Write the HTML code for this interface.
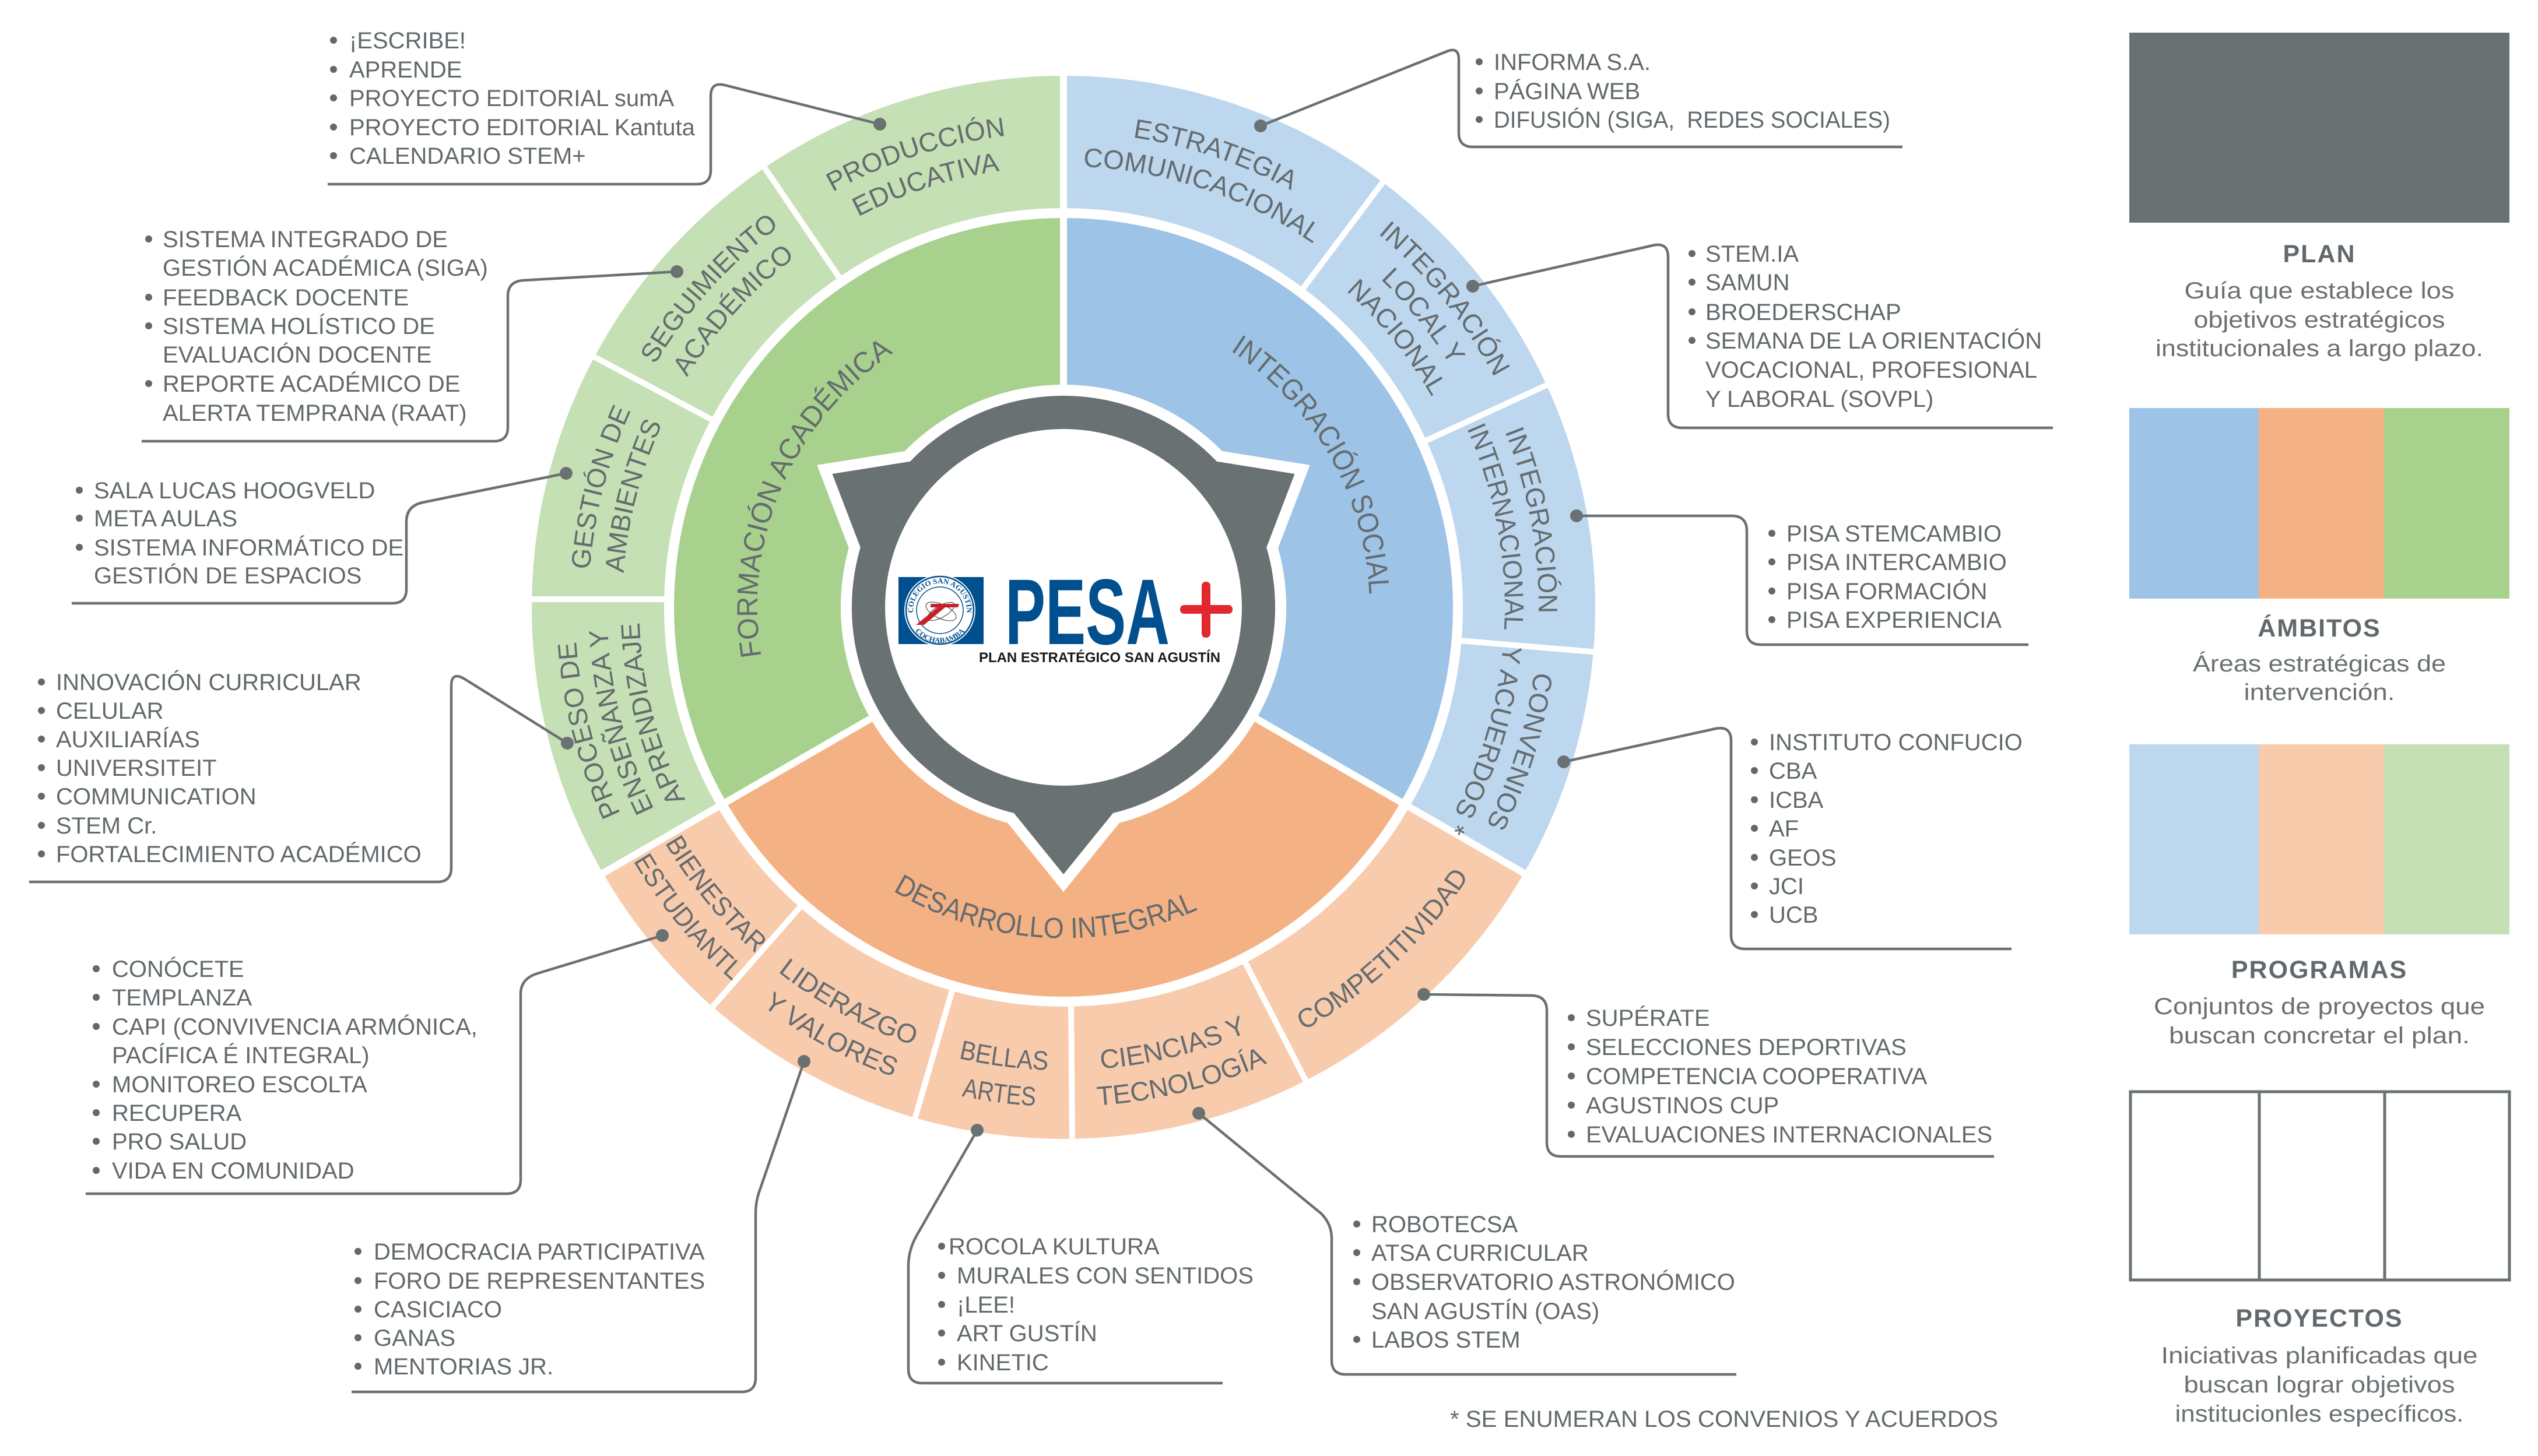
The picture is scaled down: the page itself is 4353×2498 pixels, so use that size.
<!DOCTYPE html>
<html>
<head>
<meta charset="utf-8">
<style>
html,body{margin:0;padding:0;background:#fff}
svg{display:block}
.t{font-family:"Liberation Sans",sans-serif;font-size:40px;fill:#62696c}
.r{font-family:"Liberation Sans",sans-serif;font-size:46px;fill:#656c6f;text-anchor:middle}
.a{font-size:50px}
.lt{font-family:"Liberation Sans",sans-serif;font-size:43px;font-weight:bold;fill:#62696c;text-anchor:middle;letter-spacing:2px}
.ld{font-family:"Liberation Sans",sans-serif;font-size:40px;fill:#6a7073;text-anchor:middle}
</style>
</head>
<body>
<svg width="4353" height="2498" viewBox="0 0 4353 2498" xmlns="http://www.w3.org/2000/svg">
<defs>
<path id="o525" d="M-523,-45.8 A525,525 0 0 1 523,-45.8"/>
<path id="o815" d="M-811.9,-71.1 A815,815 0 0 1 811.9,-71.1"/>
<path id="o757" d="M-754.1,-66 A757,757 0 0 1 754.1,-66"/>
<path id="o838" d="M-834.8,-73.1 A838,838 0 0 1 834.8,-73.1"/>
<path id="o783" d="M-780,-68.3 A783,783 0 0 1 780,-68.3"/>
<path id="o728" d="M-725.2,-63.5 A728,728 0 0 1 725.2,-63.5"/>
<path id="i568" d="M-565.8,49.5 A568,568 0 0 0 565.8,49.5"/>
<path id="i794" d="M-791,69.2 A794,794 0 0 0 791,69.2"/>
<path id="i857" d="M-853.7,74.7 A857,857 0 0 0 853.7,74.7"/>
<path id="i835" d="M-831.8,72.8 A835,835 0 0 0 831.8,72.8"/>
<path id="st" d="M1566,1047 A46,46 0 0 1 1658,1047"/>
<path id="sb" d="M1556,1047 A56,56 0 0 0 1668,1047"/>
</defs>

<!-- program ring -->
<path d="M1824,1042 L1034.2,1498 A912,912 0 0 1 1824,130 Z" fill="#C5E0B4"/>
<path d="M1824,1042 L1824,130 A912,912 0 0 1 2613.8,1498 Z" fill="#BDD7EE"/>
<path d="M1824,1042 L2613.8,1498 A912,912 0 0 1 1034.2,1498 Z" fill="#F8CBAD"/>
<circle cx="1824" cy="1042" r="685" fill="#fff"/>
<!-- ambit ring -->
<path d="M1824,1042 L1245.5,1376 A668,668 0 0 1 1824,374 Z" fill="#A9D18E"/>
<path d="M1824,1042 L1824,374 A668,668 0 0 1 2402.5,1376 Z" fill="#9DC3E6"/>
<path d="M1824,1042 L2402.5,1376 A668,668 0 0 1 1245.5,1376 Z" fill="#F4B183"/>

<!-- separators -->
<g stroke="#fff" stroke-width="12" fill="none">
<line x1="1824" y1="1042" x2="1824" y2="118"/>
<line x1="1824" y1="1042" x2="2620.7" y2="1502"/>
<line x1="1824" y1="1042" x2="1027.3" y2="1502"/>
</g>
<g stroke="#fff" stroke-width="10" fill="none">
<line x1="1441.8" y1="479.6" x2="1306.9" y2="281.1"/>
<line x1="1224.2" y1="721.7" x2="1012.5" y2="608.7"/>
<line x1="1146" y1="1028" x2="898" y2="1028"/>
<line x1="1375.2" y1="1552.9" x2="1216.8" y2="1733.2"/>
<line x1="1634.3" y1="1695" x2="1567.3" y2="1925.5"/>
<line x1="1837" y1="1715" x2="1839" y2="1962"/>
<line x1="2133.7" y1="1647.3" x2="2243.1" y2="1861"/>
<line x1="2501.6" y1="1098.9" x2="2740.8" y2="1119"/>
<line x1="2441.8" y1="757.8" x2="2659.8" y2="657.5"/>
<line x1="2232.3" y1="498.2" x2="2376.4" y2="306.3"/>
</g>

<!-- ambit labels -->
<g transform="translate(1824 1042) rotate(-66.5)"><text class="r a"><textPath href="#o525" startOffset="50%" textLength="600" lengthAdjust="spacingAndGlyphs">FORMACIÓN ACADÉMICA</textPath></text></g>
<g transform="translate(1824 1042) rotate(60.3)"><text class="r a"><textPath href="#o525" startOffset="50%" textLength="500" lengthAdjust="spacingAndGlyphs">INTEGRACIÓN SOCIAL</textPath></text></g>
<g transform="translate(1824 1042) rotate(3.5)"><text class="r a"><textPath href="#i568" startOffset="50%" textLength="545" lengthAdjust="spacingAndGlyphs">DESARROLLO INTEGRAL</textPath></text></g>

<!-- program labels (green) -->
<g transform="translate(1824 1042) rotate(-18)">
<text class="r"><textPath href="#o815" startOffset="50%">PRODUCCIÓN</textPath></text>
<text class="r"><textPath href="#o757" startOffset="50%">EDUCATIVA</textPath></text>
</g>
<g transform="translate(1824 1042) rotate(-48)">
<text class="r"><textPath href="#o815" startOffset="50%">SEGUIMIENTO</textPath></text>
<text class="r"><textPath href="#o757" startOffset="50%">ACADÉMICO</textPath></text>
</g>
<g transform="translate(1824 1042) rotate(-75.5)">
<text class="r"><textPath href="#o815" startOffset="50%">GESTIÓN DE</textPath></text>
<text class="r"><textPath href="#o757" startOffset="50%">AMBIENTES</textPath></text>
</g>
<g transform="translate(1824 1042) rotate(-104.5)">
<text class="r"><textPath href="#o838" startOffset="50%">PROCESO DE</textPath></text>
<text class="r"><textPath href="#o783" startOffset="50%">ENSEÑANZA Y</textPath></text>
<text class="r"><textPath href="#o728" startOffset="50%">APRENDIZAJE</textPath></text>
</g>
<!-- program labels (blue) -->
<g transform="translate(1824 1042) rotate(18.5)">
<text class="r"><textPath href="#o815" startOffset="50%">ESTRATEGIA</textPath></text>
<text class="r"><textPath href="#o757" startOffset="50%">COMUNICACIONAL</textPath></text>
</g>
<g transform="translate(1824 1042) rotate(51)">
<text class="r"><textPath href="#o838" startOffset="50%">INTEGRACIÓN</textPath></text>
<text class="r"><textPath href="#o783" startOffset="50%">LOCAL Y</textPath></text>
<text class="r"><textPath href="#o728" startOffset="50%">NACIONAL</textPath></text>
</g>
<g transform="translate(1824 1042) rotate(79.5)">
<text class="r"><textPath href="#o815" startOffset="50%">INTEGRACIÓN</textPath></text>
<text class="r"><textPath href="#o757" startOffset="50%" textLength="355" lengthAdjust="spacingAndGlyphs">INTERNACIONAL</textPath></text>
</g>
<g transform="translate(1824 1042) rotate(107.5)">
<text class="r"><textPath href="#o815" startOffset="50%">CONVENIOS</textPath></text>
<text class="r"><textPath href="#o757" startOffset="50%">Y ACUERDOS *</textPath></text>
</g>
<!-- program labels (orange) -->
<g transform="translate(1824 1042) rotate(50.5)">
<text class="r"><textPath href="#i794" startOffset="50%" textLength="247" lengthAdjust="spacingAndGlyphs">BIENESTAR</textPath></text>
<text class="r"><textPath href="#i857" startOffset="50%" textLength="268" lengthAdjust="spacingAndGlyphs">ESTUDIANTL</textPath></text>
</g>
<g transform="translate(1824 1042) rotate(28.5)">
<text class="r"><textPath href="#i794" startOffset="50%">LIDERAZGO</textPath></text>
<text class="r"><textPath href="#i857" startOffset="50%">Y VALORES</textPath></text>
</g>
<g transform="translate(1824 1042) rotate(7.5)">
<text class="r"><textPath href="#i794" startOffset="50%" textLength="155" lengthAdjust="spacingAndGlyphs">BELLAS</textPath></text>
<text class="r"><textPath href="#i857" startOffset="50%" textLength="128" lengthAdjust="spacingAndGlyphs">ARTES</textPath></text>
</g>
<g transform="translate(1824 1042) rotate(-14)">
<text class="r"><textPath href="#i794" startOffset="50%">CIENCIAS Y</textPath></text>
<text class="r"><textPath href="#i857" startOffset="50%">TECNOLOGÍA</textPath></text>
</g>
<g transform="translate(1824 1042) rotate(-43)">
<text class="r"><textPath href="#i835" startOffset="50%">COMPETITIVIDAD</textPath></text>
</g>

<!-- central gray shape -->
<path d="M1561,791.8 A363,363 0 0 1 2087,791.8 L2220.6,813 L2172.2,939.2 A363,363 0 0 1 1909.1,1394.9 L1824,1500 L1738.9,1394.9 A363,363 0 0 1 1475.8,939.2 L1427.4,813 Z" fill="#6A7173" stroke="#fff" stroke-width="38" stroke-linejoin="miter" stroke-miterlimit="10" paint-order="stroke"/>
<circle cx="1824" cy="1042" r="306" fill="#fff"/>

<!-- logo -->
<rect x="1541" y="990" width="146" height="115" fill="#00508F"/>
<circle cx="1612" cy="1047" r="61" fill="#fff"/>
<circle cx="1612" cy="1047" r="58" fill="none" stroke="#00508F" stroke-width="2.5"/>
<circle cx="1612" cy="1047" r="40" fill="none" stroke="#00508F" stroke-width="1.5"/>
<text font-family="Liberation Serif,serif" font-size="13" font-weight="bold" fill="#00508F" text-anchor="middle"><textPath href="#st" startOffset="50%">COLEGIO SAN AGUSTÍN</textPath></text>
<text font-family="Liberation Serif,serif" font-size="13" font-weight="bold" fill="#00508F" text-anchor="middle"><textPath href="#sb" startOffset="50%">COCHABAMBA</textPath></text>
<ellipse cx="1614" cy="1049" rx="28" ry="12" fill="none" stroke="#333" stroke-width="1" transform="rotate(25 1614 1049)"/>
<ellipse cx="1614" cy="1049" rx="26" ry="10" fill="none" stroke="#333" stroke-width="1" transform="rotate(-30 1614 1049)"/>
<polygon points="1596,1036 1645,1036 1643,1042 1621,1042 1585,1072 1571,1072 1608,1042 1596,1042" fill="#C8202A"/>
<text x="1724" y="1105" font-family="Liberation Sans,sans-serif" font-weight="bold" font-size="160" fill="#00508F" textLength="282" lengthAdjust="spacingAndGlyphs">PESA</text>
<rect x="2024" y="1038" width="90" height="15" rx="7" fill="#E0282E"/>
<rect x="2061" y="998" width="15" height="96" rx="7" fill="#E0282E"/>
<text x="1679" y="1136" font-family="Liberation Sans,sans-serif" font-weight="bold" font-size="24" fill="#1a1a1a" textLength="414" lengthAdjust="spacingAndGlyphs">PLAN ESTRATÉGICO SAN AGUSTÍN</text>

<!-- connectors -->
<g fill="none" stroke="#6A7173" stroke-width="4.5" stroke-linejoin="round">
<path d="M1509,213 L1243,146 Q1219,140 1219,165 L1219,292 Q1219,316 1195,316 L562,316"/>
<path d="M1161,466 L897,481 Q871,483 871,508 L871,733 Q871,757 847,757 L243,757"/>
<path d="M971,812 L725,862 Q697,868 697,895 L697,1011 Q697,1035 673,1035 L123,1035"/>
<path d="M973,1275 L797,1165 Q774,1151 774,1177 L774,1489 Q774,1513 750,1513 L50,1513"/>
<path d="M1136,1605 L922,1670 Q893,1679 893,1705 L893,2024 Q893,2048 869,2048 L147,2048"/>
<path d="M1379,1821 L1302,2045 Q1296,2062 1296,2082 L1296,2364 Q1296,2388 1272,2388 L603,2388"/>
<path d="M1676,1939 L1572,2120 Q1558,2145 1558,2172 L1558,2349 Q1558,2373 1582,2373 L2097,2373"/>
<path d="M2056,1910 L2266,2082 Q2284,2100 2284,2125 L2284,2334 Q2284,2358 2308,2358 L2978,2358"/>
<path d="M2442,1706 L2628,1708 Q2653,1709 2653,1734 L2653,1960 Q2653,1984 2677,1984 L3420,1984"/>
<path d="M2682,1307 L2943,1250 Q2969,1245 2969,1271 L2969,1604 Q2969,1628 2993,1628 L3450,1628"/>
<path d="M2704,885 L2970,885 Q2996,885 2996,911 L2996,1082 Q2996,1106 3020,1106 L3479,1106"/>
<path d="M2526,491 L2835,421 Q2861,415 2861,441 L2861,710 Q2861,734 2885,734 L3521,734"/>
<path d="M2162,216 L2482,88 Q2502,80 2502,102 L2502,228 Q2502,252 2526,252 L3263,252"/>
</g>
<g fill="#6A7173">
<circle cx="1509" cy="213" r="11"/>
<circle cx="1161" cy="466" r="11"/>
<circle cx="971" cy="812" r="11"/>
<circle cx="973" cy="1275" r="11"/>
<circle cx="1136" cy="1605" r="11"/>
<circle cx="1379" cy="1821" r="11"/>
<circle cx="1676" cy="1939" r="11"/>
<circle cx="2056" cy="1910" r="11"/>
<circle cx="2442" cy="1706" r="11"/>
<circle cx="2682" cy="1307" r="11"/>
<circle cx="2704" cy="885" r="11"/>
<circle cx="2526" cy="491" r="11"/>
<circle cx="2162" cy="216" r="11"/>
</g>

<!-- bullets -->
<g fill="#62696c">
<circle cx="572" cy="69" r="6"/><circle cx="572" cy="119" r="6"/><circle cx="572" cy="168" r="6"/><circle cx="572" cy="218" r="6"/><circle cx="572" cy="267" r="6"/>
<circle cx="255" cy="410" r="6"/><circle cx="255" cy="510" r="6"/><circle cx="255" cy="559" r="6"/><circle cx="255" cy="658" r="6"/>
<circle cx="136" cy="841" r="6"/><circle cx="136" cy="889" r="6"/><circle cx="136" cy="939" r="6"/>
<circle cx="71" cy="1170" r="6"/><circle cx="71" cy="1219" r="6"/><circle cx="71" cy="1268" r="6"/><circle cx="71" cy="1317" r="6"/><circle cx="71" cy="1366" r="6"/><circle cx="71" cy="1416" r="6"/><circle cx="71" cy="1465" r="6"/>
<circle cx="165" cy="1662" r="6"/><circle cx="165" cy="1711" r="6"/><circle cx="165" cy="1761" r="6"/><circle cx="165" cy="1860" r="6"/><circle cx="165" cy="1909" r="6"/><circle cx="165" cy="1958" r="6"/><circle cx="165" cy="2008" r="6"/>
<circle cx="614" cy="2147" r="6"/><circle cx="614" cy="2197" r="6"/><circle cx="614" cy="2246" r="6"/><circle cx="614" cy="2295" r="6"/><circle cx="614" cy="2344" r="6"/>
<circle cx="1615" cy="2138" r="6"/><circle cx="1615" cy="2188" r="6"/><circle cx="1615" cy="2238" r="6"/><circle cx="1615" cy="2287" r="6"/><circle cx="1615" cy="2337" r="6"/>
<circle cx="2327" cy="2100" r="6"/><circle cx="2327" cy="2149" r="6"/><circle cx="2327" cy="2199" r="6"/><circle cx="2327" cy="2298" r="6"/>
<circle cx="2695" cy="1746" r="6"/><circle cx="2695" cy="1796" r="6"/><circle cx="2695" cy="1846" r="6"/><circle cx="2695" cy="1896" r="6"/><circle cx="2695" cy="1946" r="6"/>
<circle cx="3009" cy="1273" r="6"/><circle cx="3009" cy="1322" r="6"/><circle cx="3009" cy="1372" r="6"/><circle cx="3009" cy="1421" r="6"/><circle cx="3009" cy="1471" r="6"/><circle cx="3009" cy="1520" r="6"/><circle cx="3009" cy="1569" r="6"/>
<circle cx="3039" cy="915" r="6"/><circle cx="3039" cy="964" r="6"/><circle cx="3039" cy="1014" r="6"/><circle cx="3039" cy="1063" r="6"/>
<circle cx="2902" cy="435" r="6"/><circle cx="2902" cy="484" r="6"/><circle cx="2902" cy="535" r="6"/><circle cx="2902" cy="584" r="6"/>
<circle cx="2537" cy="106" r="6"/><circle cx="2537" cy="156" r="6"/><circle cx="2537" cy="205" r="6"/>
</g>

<!-- text lists -->
<g class="t">
<text class="t" x="599" y="83">¡ESCRIBE!</text>
<text class="t" x="599" y="133">APRENDE</text>
<text class="t" x="599" y="182">PROYECTO EDITORIAL sumA</text>
<text class="t" x="599" y="232">PROYECTO EDITORIAL Kantuta</text>
<text class="t" x="599" y="281">CALENDARIO STEM+</text>

<text class="t" x="279" y="424">SISTEMA INTEGRADO DE</text>
<text class="t" x="279" y="473">GESTIÓN ACADÉMICA (SIGA)</text>
<text class="t" x="279" y="524">FEEDBACK DOCENTE</text>
<text class="t" x="279" y="573">SISTEMA HOLÍSTICO DE</text>
<text class="t" x="279" y="622">EVALUACIÓN DOCENTE</text>
<text class="t" x="279" y="672">REPORTE ACADÉMICO DE</text>
<text class="t" x="279" y="722">ALERTA TEMPRANA (RAAT)</text>

<text class="t" x="161" y="855">SALA LUCAS HOOGVELD</text>
<text class="t" x="161" y="903">META AULAS</text>
<text class="t" x="161" y="953">SISTEMA INFORMÁTICO DE</text>
<text class="t" x="161" y="1001">GESTIÓN DE ESPACIOS</text>

<text class="t" x="96" y="1184">INNOVACIÓN CURRICULAR</text>
<text class="t" x="96" y="1233">CELULAR</text>
<text class="t" x="96" y="1282">AUXILIARÍAS</text>
<text class="t" x="96" y="1331">UNIVERSITEIT</text>
<text class="t" x="96" y="1380">COMMUNICATION</text>
<text class="t" x="96" y="1430">STEM Cr.</text>
<text class="t" x="96" y="1479">FORTALECIMIENTO ACADÉMICO</text>

<text class="t" x="192" y="1676">CONÓCETE</text>
<text class="t" x="192" y="1725">TEMPLANZA</text>
<text class="t" x="192" y="1775">CAPI (CONVIVENCIA ARMÓNICA,</text>
<text class="t" x="192" y="1824">PACÍFICA É INTEGRAL)</text>
<text class="t" x="192" y="1874">MONITOREO ESCOLTA</text>
<text class="t" x="192" y="1923">RECUPERA</text>
<text class="t" x="192" y="1972">PRO SALUD</text>
<text class="t" x="192" y="2022">VIDA EN COMUNIDAD</text>

<text class="t" x="641" y="2161">DEMOCRACIA PARTICIPATIVA</text>
<text class="t" x="641" y="2211">FORO DE REPRESENTANTES</text>
<text class="t" x="641" y="2260">CASICIACO</text>
<text class="t" x="641" y="2309">GANAS</text>
<text class="t" x="641" y="2358">MENTORIAS JR.</text>

<text class="t" x="1627" y="2152">ROCOLA KULTURA</text>
<text class="t" x="1641" y="2202">MURALES CON SENTIDOS</text>
<text class="t" x="1641" y="2252">¡LEE!</text>
<text class="t" x="1641" y="2301">ART GUSTÍN</text>
<text class="t" x="1641" y="2351">KINETIC</text>

<text class="t" x="2352" y="2114">ROBOTECSA</text>
<text class="t" x="2352" y="2163">ATSA CURRICULAR</text>
<text class="t" x="2352" y="2213">OBSERVATORIO ASTRONÓMICO</text>
<text class="t" x="2352" y="2263">SAN AGUSTÍN (OAS)</text>
<text class="t" x="2352" y="2312">LABOS STEM</text>

<text class="t" x="2720" y="1760">SUPÉRATE</text>
<text class="t" x="2720" y="1810">SELECCIONES DEPORTIVAS</text>
<text class="t" x="2720" y="1860">COMPETENCIA COOPERATIVA</text>
<text class="t" x="2720" y="1910">AGUSTINOS CUP</text>
<text class="t" x="2720" y="1960">EVALUACIONES INTERNACIONALES</text>

<text class="t" x="3034" y="1287">INSTITUTO CONFUCIO</text>
<text class="t" x="3034" y="1336">CBA</text>
<text class="t" x="3034" y="1386">ICBA</text>
<text class="t" x="3034" y="1435">AF</text>
<text class="t" x="3034" y="1485">GEOS</text>
<text class="t" x="3034" y="1534">JCI</text>
<text class="t" x="3034" y="1583">UCB</text>

<text class="t" x="3064" y="929">PISA STEMCAMBIO</text>
<text class="t" x="3064" y="978">PISA INTERCAMBIO</text>
<text class="t" x="3064" y="1028">PISA FORMACIÓN</text>
<text class="t" x="3064" y="1077">PISA EXPERIENCIA</text>

<text class="t" x="2925" y="449">STEM.IA</text>
<text class="t" x="2925" y="498">SAMUN</text>
<text class="t" x="2925" y="549">BROEDERSCHAP</text>
<text class="t" x="2925" y="598">SEMANA DE LA ORIENTACIÓN</text>
<text class="t" x="2925" y="648">VOCACIONAL, PROFESIONAL</text>
<text class="t" x="2925" y="698">Y LABORAL (SOVPL)</text>

<text class="t" x="2562" y="120">INFORMA S.A.</text>
<text class="t" x="2562" y="170">PÁGINA WEB</text>
<text class="t" x="2562" y="219" textLength="680" lengthAdjust="spacingAndGlyphs">DIFUSIÓN (SIGA,&#160; REDES SOCIALES)</text>

<text class="t" x="2487" y="2448" font-size="39" textLength="940" lengthAdjust="spacingAndGlyphs">* SE ENUMERAN LOS CONVENIOS Y ACUERDOS</text>
</g>

<!-- legend -->
<rect x="3652" y="56" width="652" height="326" fill="#6A7173"/>
<text class="lt" x="3978" y="450">PLAN</text>
<text class="ld" x="3978" y="512" textLength="463" lengthAdjust="spacingAndGlyphs">Guía que establece los</text>
<text class="ld" x="3978" y="562" textLength="431" lengthAdjust="spacingAndGlyphs">objetivos estratégicos</text>
<text class="ld" x="3978" y="611" textLength="562" lengthAdjust="spacingAndGlyphs">institucionales a largo plazo.</text>

<rect x="3652" y="700" width="223" height="327" fill="#9DC3E6"/>
<rect x="3874" y="700" width="216" height="327" fill="#F4B183"/>
<rect x="4089" y="700" width="215" height="327" fill="#A9D18E"/>
<text class="lt" x="3978" y="1092">ÁMBITOS</text>
<text class="ld" x="3978" y="1152" textLength="434" lengthAdjust="spacingAndGlyphs">Áreas estratégicas de</text>
<text class="ld" x="3978" y="1201" textLength="259" lengthAdjust="spacingAndGlyphs">intervención.</text>

<rect x="3652" y="1277" width="223" height="326" fill="#BDD7EE"/>
<rect x="3874" y="1277" width="216" height="326" fill="#F8CBAD"/>
<rect x="4089" y="1277" width="215" height="326" fill="#C5E0B4"/>
<text class="lt" x="3978" y="1678">PROGRAMAS</text>
<text class="ld" x="3978" y="1740" textLength="568" lengthAdjust="spacingAndGlyphs">Conjuntos de proyectos que</text>
<text class="ld" x="3978" y="1790" textLength="516" lengthAdjust="spacingAndGlyphs">buscan concretar el plan.</text>

<rect x="3654" y="1873" width="650" height="323" fill="none" stroke="#6A7173" stroke-width="5"/>
<line x1="3875" y1="1873" x2="3875" y2="2196" stroke="#6A7173" stroke-width="5"/>
<line x1="4090" y1="1873" x2="4090" y2="2196" stroke="#6A7173" stroke-width="5"/>
<text class="lt" x="3978" y="2276">PROYECTOS</text>
<text class="ld" x="3978" y="2339" textLength="543" lengthAdjust="spacingAndGlyphs">Iniciativas planificadas que</text>
<text class="ld" x="3978" y="2389" textLength="465" lengthAdjust="spacingAndGlyphs">buscan lograr objetivos</text>
<text class="ld" x="3978" y="2439" textLength="495" lengthAdjust="spacingAndGlyphs">institucionles específicos.</text>
</svg>
</body>
</html>
